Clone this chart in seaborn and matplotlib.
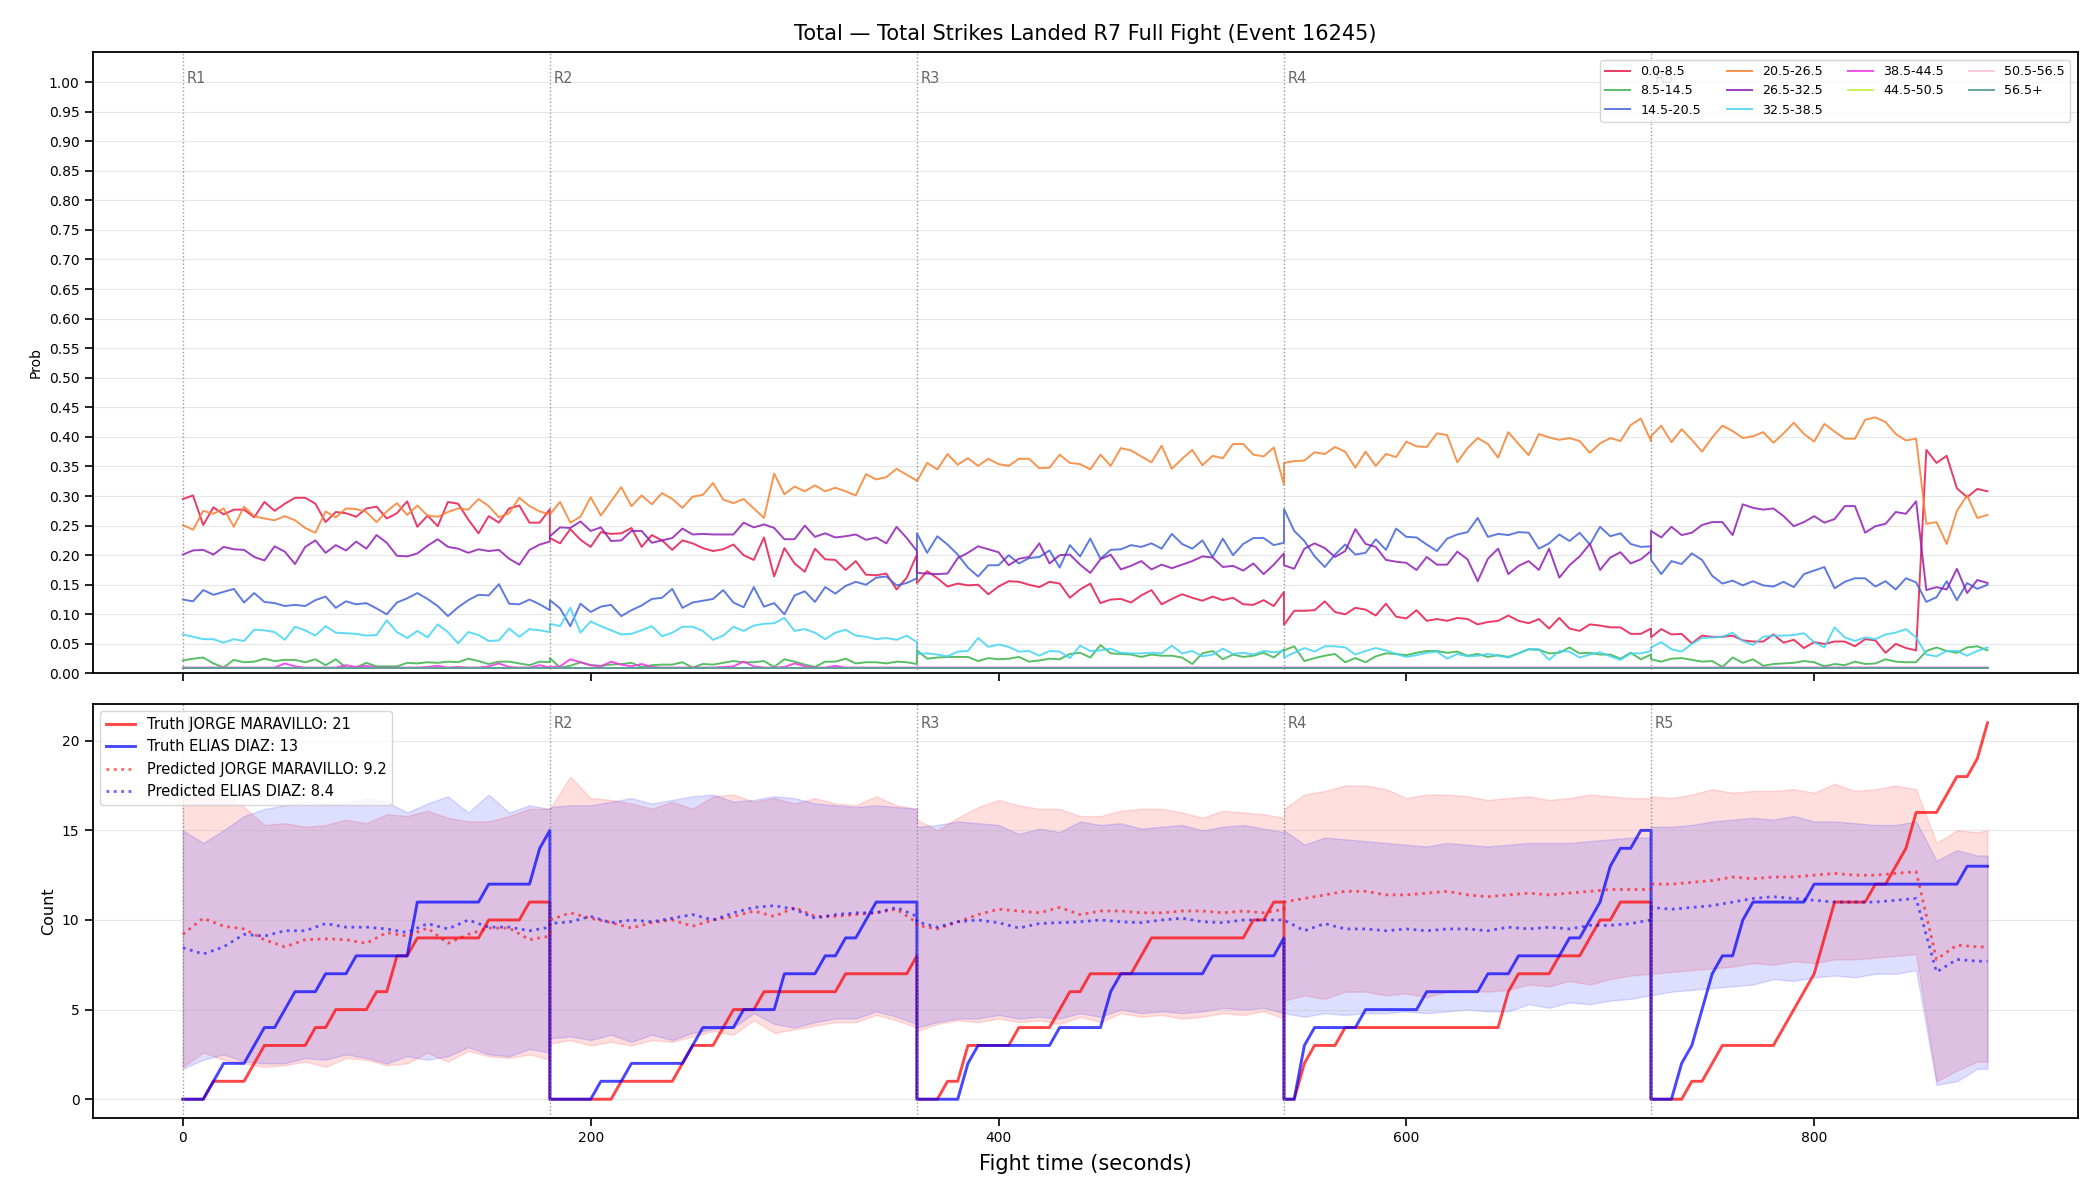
import numpy as np
import pandas as pd
import matplotlib
matplotlib.use("Agg")
import matplotlib.pyplot as plt
import seaborn as sns

# ---------------------------------------------------------------- data
TITLE = "Total — Total Strikes Landed R7 Full Fight (Event 16245)"
ROUND_STARTS = [0, 180, 360, 540, 720]
ROUND_LABELS = ["R1", "R2", "R3", "R4", "R5"]
FIGHT_END = 885

BIN_LABELS = ["0.0-8.5", "8.5-14.5", "14.5-20.5", "20.5-26.5", "26.5-32.5",
              "32.5-38.5", "38.5-44.5", "44.5-50.5", "50.5-56.5", "56.5+"]
BIN_COLORS = ["#e6194b", "#3cb44b", "#4363d8", "#f58231", "#911eb4",
              "#42d4f4", "#f032e6", "#bfef45", "#fabed4", "#469990"]

# probabilities, sampled every 5 s inside each round (round edges repeated)
P_00_08 = (
    [0.295, 0.301, 0.251, 0.281, 0.269, 0.277, 0.277, 0.264, 0.290, 0.275, 0.287, 0.297, 0.297,
     0.287, 0.256, 0.273, 0.271, 0.265, 0.279, 0.282, 0.262, 0.271, 0.291, 0.248, 0.267, 0.249,
     0.290, 0.287, 0.260, 0.237, 0.266, 0.255, 0.279, 0.284, 0.255, 0.255, 0.278] +
    [0.229, 0.220, 0.244, 0.226, 0.214, 0.239, 0.236, 0.237, 0.246, 0.214, 0.234, 0.225, 0.209,
     0.225, 0.220, 0.212, 0.207, 0.210, 0.218, 0.200, 0.192, 0.230, 0.164, 0.212, 0.186, 0.172,
     0.211, 0.193, 0.192, 0.175, 0.190, 0.167, 0.166, 0.169, 0.142, 0.162, 0.201] +
    [0.153, 0.173, 0.161, 0.147, 0.152, 0.149, 0.150, 0.134, 0.147, 0.156, 0.155, 0.150, 0.146,
     0.155, 0.152, 0.128, 0.142, 0.152, 0.119, 0.125, 0.126, 0.120, 0.132, 0.141, 0.117, 0.126,
     0.134, 0.128, 0.123, 0.130, 0.124, 0.128, 0.117, 0.116, 0.124, 0.114, 0.138] +
    [0.082, 0.106, 0.106, 0.107, 0.122, 0.104, 0.100, 0.111, 0.108, 0.098, 0.118, 0.096, 0.093,
     0.107, 0.089, 0.092, 0.089, 0.094, 0.092, 0.083, 0.087, 0.089, 0.098, 0.089, 0.085, 0.092,
     0.076, 0.094, 0.076, 0.072, 0.083, 0.081, 0.078, 0.078, 0.067, 0.067, 0.076] +
    [0.061, 0.075, 0.066, 0.067, 0.051, 0.064, 0.062, 0.062, 0.064, 0.056, 0.054, 0.054, 0.066,
     0.052, 0.057, 0.043, 0.053, 0.050, 0.054, 0.054, 0.046, 0.058, 0.056, 0.035, 0.050, 0.043,
     0.039, 0.378, 0.356, 0.368, 0.313, 0.298, 0.312, 0.308]
)
P_08_14 = (
    [0.022, 0.025, 0.027, 0.017, 0.010, 0.023, 0.019, 0.020, 0.025, 0.021, 0.023, 0.023, 0.019,
     0.024, 0.014, 0.024, 0.010, 0.010, 0.018, 0.012, 0.012, 0.012, 0.018, 0.017, 0.019, 0.018,
     0.020, 0.019, 0.025, 0.021, 0.016, 0.020, 0.020, 0.017, 0.014, 0.020, 0.019] +
    [0.026, 0.010, 0.013, 0.019, 0.014, 0.013, 0.015, 0.016, 0.018, 0.011, 0.014, 0.015, 0.015,
     0.019, 0.010, 0.016, 0.015, 0.018, 0.021, 0.019, 0.019, 0.021, 0.011, 0.024, 0.020, 0.015,
     0.011, 0.020, 0.020, 0.025, 0.017, 0.019, 0.019, 0.017, 0.020, 0.019, 0.016] +
    [0.039, 0.025, 0.027, 0.028, 0.028, 0.028, 0.021, 0.026, 0.024, 0.025, 0.028, 0.020, 0.022,
     0.025, 0.024, 0.033, 0.035, 0.027, 0.048, 0.034, 0.033, 0.032, 0.028, 0.032, 0.030, 0.030,
     0.027, 0.016, 0.034, 0.038, 0.024, 0.032, 0.028, 0.030, 0.035, 0.027, 0.041] +
    [0.039, 0.046, 0.021, 0.026, 0.030, 0.033, 0.019, 0.026, 0.019, 0.029, 0.034, 0.033, 0.031,
     0.035, 0.038, 0.038, 0.035, 0.037, 0.030, 0.033, 0.028, 0.031, 0.028, 0.034, 0.041, 0.040,
     0.034, 0.035, 0.044, 0.034, 0.035, 0.032, 0.032, 0.025, 0.035, 0.024, 0.032] +
    [0.024, 0.020, 0.025, 0.026, 0.023, 0.020, 0.021, 0.011, 0.027, 0.018, 0.024, 0.013, 0.016,
     0.017, 0.018, 0.021, 0.019, 0.012, 0.016, 0.014, 0.020, 0.016, 0.017, 0.024, 0.020, 0.019,
     0.019, 0.038, 0.044, 0.038, 0.035, 0.044, 0.046, 0.039]
)
P_14_20 = (
    [0.125, 0.122, 0.141, 0.133, 0.138, 0.143, 0.120, 0.136, 0.121, 0.119, 0.114, 0.116, 0.114,
     0.124, 0.130, 0.111, 0.122, 0.117, 0.119, 0.110, 0.100, 0.120, 0.127, 0.136, 0.126, 0.114,
     0.097, 0.112, 0.124, 0.133, 0.132, 0.151, 0.118, 0.117, 0.125, 0.117, 0.107] +
    [0.124, 0.110, 0.080, 0.118, 0.104, 0.113, 0.116, 0.097, 0.107, 0.115, 0.126, 0.128, 0.143,
     0.111, 0.120, 0.123, 0.126, 0.141, 0.120, 0.112, 0.146, 0.113, 0.119, 0.100, 0.132, 0.139,
     0.121, 0.146, 0.135, 0.148, 0.155, 0.150, 0.162, 0.164, 0.149, 0.153, 0.161] +
    [0.237, 0.204, 0.232, 0.218, 0.201, 0.179, 0.164, 0.183, 0.183, 0.200, 0.186, 0.195, 0.197,
     0.208, 0.179, 0.217, 0.198, 0.228, 0.194, 0.209, 0.210, 0.217, 0.214, 0.220, 0.211, 0.236,
     0.219, 0.211, 0.225, 0.197, 0.228, 0.200, 0.219, 0.229, 0.229, 0.217, 0.221] +
    [0.278, 0.241, 0.224, 0.198, 0.180, 0.201, 0.218, 0.201, 0.204, 0.227, 0.209, 0.245, 0.231,
     0.230, 0.218, 0.207, 0.228, 0.235, 0.239, 0.263, 0.231, 0.236, 0.234, 0.239, 0.238, 0.211,
     0.220, 0.235, 0.224, 0.238, 0.218, 0.248, 0.232, 0.237, 0.219, 0.214, 0.215] +
    [0.192, 0.168, 0.190, 0.185, 0.203, 0.192, 0.165, 0.152, 0.157, 0.149, 0.156, 0.149, 0.147,
     0.155, 0.146, 0.168, 0.174, 0.180, 0.144, 0.155, 0.161, 0.161, 0.147, 0.156, 0.142, 0.161,
     0.154, 0.121, 0.129, 0.156, 0.124, 0.153, 0.143, 0.150]
)
P_20_26 = (
    [0.251, 0.243, 0.275, 0.270, 0.279, 0.248, 0.282, 0.266, 0.262, 0.259, 0.266, 0.259, 0.246,
     0.238, 0.274, 0.264, 0.279, 0.278, 0.273, 0.256, 0.274, 0.288, 0.268, 0.284, 0.267, 0.265,
     0.273, 0.279, 0.277, 0.295, 0.283, 0.264, 0.271, 0.297, 0.283, 0.274, 0.269] +
    [0.269, 0.290, 0.255, 0.265, 0.298, 0.267, 0.291, 0.315, 0.283, 0.301, 0.286, 0.305, 0.295,
     0.280, 0.299, 0.302, 0.322, 0.294, 0.288, 0.295, 0.279, 0.263, 0.338, 0.303, 0.316, 0.308,
     0.318, 0.308, 0.314, 0.308, 0.301, 0.337, 0.328, 0.332, 0.346, 0.336, 0.326] +
    [0.325, 0.356, 0.345, 0.371, 0.353, 0.364, 0.351, 0.363, 0.354, 0.351, 0.363, 0.363, 0.347,
     0.348, 0.370, 0.356, 0.354, 0.345, 0.370, 0.351, 0.381, 0.377, 0.367, 0.357, 0.385, 0.346,
     0.363, 0.378, 0.352, 0.368, 0.364, 0.388, 0.388, 0.370, 0.367, 0.382, 0.319] +
    [0.356, 0.359, 0.360, 0.374, 0.371, 0.383, 0.375, 0.348, 0.375, 0.351, 0.371, 0.366, 0.392,
     0.384, 0.383, 0.406, 0.403, 0.357, 0.381, 0.398, 0.388, 0.365, 0.408, 0.388, 0.369, 0.405,
     0.399, 0.395, 0.398, 0.393, 0.373, 0.389, 0.398, 0.393, 0.420, 0.431, 0.393] +
    [0.401, 0.419, 0.391, 0.413, 0.395, 0.375, 0.399, 0.419, 0.410, 0.398, 0.401, 0.408, 0.390,
     0.406, 0.424, 0.405, 0.392, 0.422, 0.409, 0.397, 0.397, 0.429, 0.433, 0.425, 0.405, 0.394,
     0.397, 0.253, 0.256, 0.219, 0.275, 0.301, 0.263, 0.268]
)
P_26_32 = (
    [0.201, 0.208, 0.209, 0.201, 0.214, 0.210, 0.209, 0.197, 0.191, 0.215, 0.206, 0.185, 0.214,
     0.225, 0.204, 0.217, 0.208, 0.223, 0.211, 0.234, 0.221, 0.199, 0.198, 0.203, 0.216, 0.227,
     0.214, 0.211, 0.204, 0.210, 0.207, 0.209, 0.194, 0.184, 0.209, 0.218, 0.223] +
    [0.232, 0.247, 0.246, 0.257, 0.241, 0.247, 0.224, 0.225, 0.241, 0.241, 0.221, 0.225, 0.229,
     0.245, 0.235, 0.236, 0.235, 0.235, 0.235, 0.255, 0.247, 0.252, 0.246, 0.227, 0.227, 0.250,
     0.231, 0.237, 0.230, 0.232, 0.235, 0.226, 0.230, 0.220, 0.248, 0.229, 0.207] +
    [0.170, 0.169, 0.168, 0.169, 0.195, 0.204, 0.215, 0.210, 0.205, 0.183, 0.194, 0.197, 0.220,
     0.186, 0.200, 0.201, 0.184, 0.170, 0.193, 0.201, 0.176, 0.182, 0.190, 0.176, 0.184, 0.178,
     0.184, 0.190, 0.198, 0.196, 0.180, 0.182, 0.174, 0.186, 0.168, 0.184, 0.203] +
    [0.183, 0.177, 0.211, 0.220, 0.212, 0.197, 0.207, 0.244, 0.219, 0.214, 0.192, 0.189, 0.187,
     0.175, 0.197, 0.184, 0.184, 0.206, 0.193, 0.156, 0.194, 0.211, 0.168, 0.182, 0.190, 0.175,
     0.211, 0.162, 0.183, 0.198, 0.219, 0.175, 0.196, 0.205, 0.186, 0.193, 0.207] +
    [0.241, 0.230, 0.248, 0.234, 0.238, 0.251, 0.256, 0.256, 0.234, 0.286, 0.280, 0.277, 0.279,
     0.266, 0.249, 0.256, 0.266, 0.255, 0.261, 0.283, 0.283, 0.238, 0.249, 0.253, 0.273, 0.270,
     0.291, 0.141, 0.146, 0.142, 0.177, 0.136, 0.158, 0.153]
)
P_32_38 = (
    [0.066, 0.062, 0.058, 0.058, 0.052, 0.058, 0.055, 0.074, 0.073, 0.070, 0.057, 0.079, 0.073,
     0.064, 0.080, 0.069, 0.068, 0.067, 0.064, 0.065, 0.090, 0.070, 0.060, 0.072, 0.061, 0.083,
     0.070, 0.051, 0.070, 0.065, 0.055, 0.056, 0.076, 0.062, 0.075, 0.073, 0.070] +
    [0.084, 0.080, 0.111, 0.069, 0.088, 0.080, 0.073, 0.066, 0.067, 0.073, 0.080, 0.063, 0.069,
     0.079, 0.079, 0.072, 0.057, 0.064, 0.079, 0.072, 0.081, 0.084, 0.085, 0.094, 0.072, 0.075,
     0.069, 0.058, 0.069, 0.074, 0.064, 0.062, 0.058, 0.060, 0.057, 0.064, 0.053] +
    [0.033, 0.034, 0.032, 0.029, 0.037, 0.038, 0.060, 0.045, 0.049, 0.045, 0.037, 0.038, 0.030,
     0.038, 0.037, 0.026, 0.047, 0.038, 0.039, 0.042, 0.035, 0.034, 0.034, 0.035, 0.034, 0.047,
     0.034, 0.038, 0.029, 0.032, 0.042, 0.033, 0.035, 0.032, 0.038, 0.036, 0.038] +
    [0.027, 0.035, 0.043, 0.037, 0.046, 0.046, 0.044, 0.032, 0.038, 0.043, 0.039, 0.033, 0.028,
     0.031, 0.035, 0.037, 0.025, 0.033, 0.029, 0.030, 0.033, 0.030, 0.027, 0.034, 0.041, 0.041,
     0.023, 0.038, 0.037, 0.027, 0.032, 0.036, 0.029, 0.023, 0.034, 0.034, 0.038] +
    [0.044, 0.053, 0.041, 0.037, 0.050, 0.060, 0.061, 0.062, 0.069, 0.055, 0.048, 0.062, 0.064,
     0.064, 0.065, 0.068, 0.053, 0.044, 0.078, 0.061, 0.055, 0.061, 0.058, 0.066, 0.069, 0.075,
     0.061, 0.032, 0.029, 0.038, 0.038, 0.030, 0.038, 0.044]
)
P_38_44 = (
    [0.010, 0.010, 0.010, 0.010, 0.010, 0.010, 0.010, 0.010, 0.010, 0.010, 0.017, 0.012, 0.010,
     0.010, 0.010, 0.010, 0.014, 0.011, 0.013, 0.010, 0.010, 0.010, 0.010, 0.010, 0.011, 0.013,
     0.010, 0.011, 0.010, 0.010, 0.012, 0.017, 0.011, 0.010, 0.010, 0.014, 0.010] +
    [0.011, 0.012, 0.024, 0.019, 0.014, 0.012, 0.020, 0.015, 0.012, 0.016, 0.011, 0.010, 0.010,
     0.010, 0.010, 0.010, 0.010, 0.011, 0.012, 0.020, 0.012, 0.010, 0.010, 0.011, 0.017, 0.012,
     0.010, 0.010, 0.013, 0.010, 0.010, 0.010, 0.010, 0.010, 0.010, 0.010, 0.010] +
    [0.010, 0.010, 0.010, 0.010, 0.010, 0.010, 0.010, 0.010, 0.010, 0.010, 0.010, 0.010, 0.010,
     0.010, 0.010, 0.010, 0.010, 0.010, 0.010, 0.010, 0.010, 0.010, 0.010, 0.010, 0.010, 0.010,
     0.010, 0.010, 0.010, 0.010, 0.010, 0.010, 0.010, 0.010, 0.010, 0.010, 0.010] +
    [0.010, 0.010, 0.010, 0.010, 0.010, 0.010, 0.010, 0.010, 0.010, 0.010, 0.010, 0.010, 0.010,
     0.010, 0.010, 0.010, 0.010, 0.010, 0.010, 0.010, 0.010, 0.010, 0.010, 0.010, 0.010, 0.010,
     0.010, 0.010, 0.010, 0.010, 0.010, 0.010, 0.010, 0.010, 0.010, 0.010, 0.010] +
    [0.010, 0.010, 0.010, 0.010, 0.010, 0.010, 0.010, 0.010, 0.010, 0.010, 0.010, 0.010, 0.010,
     0.010, 0.010, 0.010, 0.010, 0.010, 0.010, 0.010, 0.010, 0.010, 0.010, 0.010, 0.010, 0.010,
     0.010, 0.010, 0.010, 0.010, 0.010, 0.010, 0.010, 0.010]
)
# the three highest bins sit flat at about 0.01 for the whole fight
P_FLAT_HIGH = (
    [0.010, 0.010, 0.010, 0.010, 0.010, 0.010, 0.010, 0.010, 0.010, 0.010, 0.010, 0.010, 0.010,
     0.010, 0.010, 0.010, 0.010, 0.010, 0.010, 0.010, 0.010, 0.010, 0.010, 0.010, 0.010, 0.010,
     0.010, 0.010, 0.010, 0.010, 0.010, 0.010, 0.010, 0.010, 0.010, 0.010, 0.010] +
    [0.010, 0.010, 0.010, 0.010, 0.010, 0.010, 0.010, 0.010, 0.010, 0.010, 0.010, 0.010, 0.010,
     0.010, 0.010, 0.010, 0.010, 0.010, 0.010, 0.010, 0.010, 0.010, 0.010, 0.010, 0.010, 0.010,
     0.010, 0.010, 0.010, 0.010, 0.010, 0.010, 0.010, 0.010, 0.010, 0.010, 0.010] +
    [0.010, 0.010, 0.010, 0.010, 0.010, 0.010, 0.010, 0.010, 0.010, 0.010, 0.010, 0.010, 0.010,
     0.010, 0.010, 0.010, 0.010, 0.010, 0.010, 0.010, 0.010, 0.010, 0.010, 0.010, 0.010, 0.010,
     0.010, 0.010, 0.010, 0.010, 0.010, 0.010, 0.010, 0.010, 0.010, 0.010, 0.010] +
    [0.010, 0.010, 0.010, 0.010, 0.010, 0.010, 0.010, 0.010, 0.010, 0.010, 0.010, 0.010, 0.010,
     0.010, 0.010, 0.010, 0.010, 0.010, 0.010, 0.010, 0.010, 0.010, 0.010, 0.010, 0.010, 0.010,
     0.010, 0.010, 0.010, 0.010, 0.010, 0.010, 0.010, 0.010, 0.010, 0.010, 0.010] +
    [0.010, 0.010, 0.010, 0.010, 0.010, 0.010, 0.010, 0.010, 0.010, 0.010, 0.010, 0.010, 0.010,
     0.010, 0.010, 0.010, 0.010, 0.010, 0.010, 0.010, 0.010, 0.010, 0.010, 0.010, 0.010, 0.010,
     0.010, 0.010, 0.010, 0.010, 0.010, 0.010, 0.010, 0.010]
)
P_44_50 = P_FLAT_HIGH
P_50_56 = P_FLAT_HIGH
P_56_UP = P_FLAT_HIGH

# cumulative landed strikes within each round, sampled every 5 s
TRUTH_NAMES = ["JORGE MARAVILLO", "ELIAS DIAZ"]
TRUTH_JORGE = (
    [0, 0, 0, 1, 1, 1, 1, 2, 3, 3, 3, 3, 3, 4, 4, 5, 5, 5, 5, 6, 6, 8, 8, 9, 9, 9, 9, 9, 9, 9,
     10, 10, 10, 10, 11, 11, 11] +
    [0, 0, 0, 0, 0, 0, 0, 1, 1, 1, 1, 1, 1, 2, 3, 3, 3, 4, 5, 5, 5, 6, 6, 6, 6, 6, 6, 6, 6,
     7, 7, 7, 7, 7, 7, 7, 8] +
    [0, 0, 0, 1, 1, 3, 3, 3, 3, 3, 4, 4, 4, 4, 5, 6, 6, 7, 7, 7, 7, 7, 8, 9, 9, 9, 9, 9, 9, 9,
     9, 9, 9, 10, 10, 11, 11] +
    [0, 0, 2, 3, 3, 3, 4, 4, 4, 4, 4, 4, 4, 4, 4, 4, 4, 4, 4, 4, 4, 4, 6, 7, 7, 7, 7, 8, 8, 8,
     9, 10, 10, 11, 11, 11, 11] +
    [0, 0, 0, 0, 1, 1, 2, 3, 3, 3, 3, 3, 3, 4, 5, 6, 7, 9, 11, 11, 11, 11, 12, 12, 13, 14,
     16, 16, 16, 17, 18, 18, 19, 21]
)
TRUTH_ELIAS = (
    [0, 0, 0, 1, 2, 2, 2, 3, 4, 4, 5, 6, 6, 6, 7, 7, 7, 8, 8, 8, 8, 8, 8, 11, 11, 11, 11, 11,
     11, 11, 12, 12, 12, 12, 12, 14, 15] +
    [0, 0, 0, 0, 0, 1, 1, 1, 2, 2, 2, 2, 2, 2, 3, 4, 4, 4, 4, 5, 5, 5, 5, 7, 7, 7, 7, 8, 8,
     9, 9, 10, 11, 11, 11, 11, 11] +
    [0, 0, 0, 0, 0, 2, 3, 3, 3, 3, 3, 3, 3, 3, 4, 4, 4, 4, 4, 6, 7, 7, 7, 7, 7, 7, 7, 7, 7,
     8, 8, 8, 8, 8, 8, 8, 9] +
    [0, 0, 3, 4, 4, 4, 4, 4, 5, 5, 5, 5, 5, 5, 6, 6, 6, 6, 6, 6, 7, 7, 7, 8, 8, 8, 8, 8, 9,
     9, 10, 11, 13, 14, 14, 15, 15] +
    [0, 0, 0, 2, 3, 5, 7, 8, 8, 10, 11, 11, 11, 11, 11, 11, 12, 12, 12, 12, 12, 12, 12, 12,
     12, 12, 12, 12, 12, 12, 12, 13, 13, 13]
)

# predicted count and its band, sampled every 10 s inside each round
PRED_JORGE = (
    [9.2, 10.1, 9.65, 9.5, 8.9, 8.5, 8.9, 8.95, 8.9, 8.7, 9.3, 9.1, 9.55, 8.7, 9.2, 9.55, 9.55,
     8.9, 9.1] +
    [10.0, 10.4, 10.1, 9.85, 9.55, 9.85, 10.0, 9.65, 10.0, 10.2, 10.5, 10.2, 10.7, 10.2, 10.2,
     10.3, 10.4, 10.6, 9.85] +
    [9.7, 9.5, 9.9, 10.3, 10.6, 10.5, 10.4, 10.7, 10.3, 10.5, 10.5, 10.4, 10.4, 10.5, 10.5,
     10.4, 10.5, 10.4, 10.6] +
    [11.0, 11.2, 11.4, 11.6, 11.6, 11.4, 11.4, 11.5, 11.6, 11.4, 11.3, 11.4, 11.5, 11.4, 11.5,
     11.6, 11.7, 11.7, 11.7] +
    [12.0, 12.0, 12.1, 12.2, 12.4, 12.3, 12.4, 12.4, 12.5, 12.6, 12.5, 12.5, 12.6, 12.7, 7.8,
     8.6, 8.5, 8.5]
)
PRED_ELIAS = (
    [8.45, 8.1, 8.5, 9.2, 9.1, 9.4, 9.4, 9.8, 9.6, 9.6, 9.5, 9.3, 9.8, 9.5, 10.0, 9.6, 9.6,
     9.4, 9.6] +
    [9.8, 9.9, 10.2, 9.85, 10.0, 9.9, 10.1, 10.3, 10.0, 10.4, 10.7, 10.8, 10.6, 10.1, 10.3,
     10.4, 10.4, 10.7, 10.2] +
    [9.9, 9.6, 9.9, 10.0, 9.85, 9.55, 9.8, 9.85, 9.9, 10.0, 9.9, 9.85, 10.0, 10.1, 9.9, 9.85,
     10.0, 10.0, 10.0] +
    [10.0, 9.4, 9.8, 9.5, 9.5, 9.4, 9.5, 9.4, 9.5, 9.5, 9.4, 9.6, 9.5, 9.6, 9.5, 9.7, 9.7,
     9.8, 10.0] +
    [10.7, 10.6, 10.7, 10.8, 11.0, 11.2, 11.3, 11.2, 11.1, 11.0, 11.0, 11.0, 11.1, 11.2, 7.1,
     7.8, 7.7, 7.7]
)
HI_JORGE = (
    [16.8, 17.0, 17.0, 16.3, 15.3, 15.4, 15.2, 15.3, 15.6, 15.4, 15.9, 15.8, 16.1, 15.7, 15.5,
     15.5, 15.8, 16.2, 16.2] +
    [16.2, 18.0, 16.8, 16.7, 16.5, 16.2, 16.6, 16.2, 16.9, 17.0, 16.6, 16.8, 16.5, 16.8, 16.5,
     16.4, 16.9, 16.4, 16.2] +
    [15.6, 15.0, 15.7, 16.3, 16.7, 16.4, 16.2, 16.2, 15.8, 15.8, 16.1, 16.2, 16.2, 16.0, 15.7,
     16.1, 16.0, 15.9, 15.7] +
    [16.2, 17.0, 17.2, 17.5, 17.5, 17.3, 16.8, 17.0, 17.0, 16.9, 16.7, 16.8, 16.9, 16.7, 16.8,
     17.0, 16.9, 16.8, 16.8] +
    [16.9, 16.8, 17.0, 17.3, 17.1, 17.2, 17.2, 17.3, 17.1, 17.6, 17.2, 17.3, 17.5, 17.3, 14.3,
     15.0, 14.9, 15.0]
)
LO_JORGE = (
    [1.8, 2.6, 2.2, 2.0, 1.8, 1.9, 2.1, 1.8, 2.3, 2.2, 1.9, 2.0, 2.6, 2.1, 2.7, 2.4, 2.3, 2.5,
     2.2] +
    [3.1, 3.3, 3.0, 3.2, 3.0, 3.3, 3.2, 3.5, 3.8, 3.6, 4.4, 3.7, 3.9, 4.1, 4.3, 4.3, 4.7, 4.4,
     4.0] +
    [3.8, 4.2, 4.4, 4.3, 4.5, 4.3, 4.4, 4.2, 4.6, 4.3, 4.8, 4.6, 4.7, 4.5, 4.6, 4.8, 4.7, 4.9,
     4.5] +
    [5.5, 5.8, 5.6, 6.0, 6.0, 5.8, 5.9, 5.7, 6.0, 6.1, 6.0, 6.1, 6.4, 6.3, 6.6, 6.4, 6.7, 6.9,
     7.0] +
    [7.0, 7.1, 7.2, 7.3, 7.4, 7.6, 7.5, 7.7, 7.6, 7.8, 7.8, 7.9, 8.0, 8.1, 1.0, 1.6, 2.1, 2.1]
)
HI_ELIAS = (
    [15.0, 14.3, 15.0, 15.8, 16.2, 16.4, 16.6, 16.5, 16.5, 16.8, 16.6, 16.0, 16.5, 16.9, 16.0,
     17.0, 16.0, 16.4, 16.2] +
    [16.3, 16.4, 16.4, 16.6, 16.8, 16.5, 16.7, 16.9, 17.0, 16.6, 16.7, 16.9, 16.8, 16.5, 16.4,
     16.3, 16.4, 16.3, 16.2] +
    [15.2, 15.3, 15.5, 15.4, 15.3, 14.8, 15.1, 14.9, 15.5, 15.3, 15.4, 15.1, 15.2, 15.3, 15.0,
     15.2, 15.3, 15.1, 14.9] +
    [15.0, 14.2, 14.6, 14.5, 14.4, 14.3, 14.2, 14.1, 14.3, 14.2, 14.1, 14.2, 14.3, 14.3, 14.3,
     14.4, 14.5, 14.6, 14.6] +
    [15.2, 15.2, 15.3, 15.5, 15.6, 15.7, 15.6, 15.8, 15.5, 15.5, 15.4, 15.3, 15.3, 15.5, 13.3,
     13.9, 13.6, 13.6]
)
LO_ELIAS = (
    [1.7, 2.2, 2.5, 2.1, 2.0, 2.0, 2.3, 2.2, 2.5, 2.3, 2.0, 2.4, 2.2, 2.4, 2.9, 2.5, 2.4, 2.8,
     2.6] +
    [3.4, 3.5, 3.3, 3.6, 3.2, 3.6, 3.3, 3.7, 3.9, 4.0, 4.8, 4.2, 4.0, 4.3, 4.5, 4.5, 4.9, 4.6,
     4.2] +
    [4.0, 4.3, 4.5, 4.5, 4.7, 4.5, 4.6, 4.5, 4.8, 4.6, 5.0, 4.8, 4.9, 4.8, 4.9, 5.1, 5.0, 5.1,
     4.8] +
    [4.8, 4.6, 4.8, 4.7, 4.8, 4.8, 4.9, 4.8, 4.9, 5.0, 4.9, 4.9, 5.3, 5.1, 5.4, 5.3, 5.5, 5.6,
     5.8] +
    [5.8, 6.0, 6.1, 6.2, 6.3, 6.4, 6.7, 6.6, 6.8, 6.9, 6.8, 7.0, 7.0, 7.2, 0.8, 1.0, 1.7, 1.7]
)


# ---------------------------------------------------------------- helpers
def round_grid(step):
    """Sample times: every `step` s within each round, the round edges repeated."""
    out = []
    for i, start in enumerate(ROUND_STARTS):
        end = ROUND_STARTS[i + 1] if i + 1 < len(ROUND_STARTS) else FIGHT_END
        g = list(range(start, end + 1, step))
        if g[-1] != end:
            g.append(end)
        out += g
    return np.array(out, dtype=float)


T5 = round_grid(5)
T10 = round_grid(10)

PROB_SERIES = [P_00_08, P_08_14, P_14_20, P_20_26, P_26_32,
               P_32_38, P_38_44, P_44_50, P_50_56, P_56_UP]
for s in PROB_SERIES + [TRUTH_JORGE, TRUTH_ELIAS]:
    assert len(s) == len(T5), (len(s), len(T5))
for s in [PRED_JORGE, PRED_ELIAS, HI_JORGE, LO_JORGE, HI_ELIAS, LO_ELIAS]:
    assert len(s) == len(T10), (len(s), len(T10))

prob_df = pd.concat(
    [pd.DataFrame({"t": T5, "prob": vals, "bin": lab})
     for lab, vals in zip(BIN_LABELS, PROB_SERIES)],
    ignore_index=True)

# ---------------------------------------------------------------- figure
plt.rcParams["font.family"] = ["DejaVu Sans"]
plt.rcParams["axes.linewidth"] = 1.3

fig, (ax1, ax2) = plt.subplots(
    2, 1, figsize=(21, 12), dpi=100, sharex=True,
    gridspec_kw={"height_ratios": [3, 2]})
fig.subplots_adjust(left=0.0441, right=0.9894, top=0.9563, bottom=0.0683, hspace=0.059)

# --- top: bin probabilities
for lab, col in zip(BIN_LABELS, BIN_COLORS):
    sub = prob_df[prob_df["bin"] == lab]
    sns.lineplot(data=sub, x="t", y="prob", ax=ax1, color=col, label=lab,
                 estimator=None, sort=False, linewidth=1.4, alpha=0.85)

ax1.set_ylim(0, 1.05)
ax1.set_yticks(np.arange(0, 1.0001, 0.05))
ax1.set_yticklabels([f"{v:.2f}" for v in np.arange(0, 1.0001, 0.05)])
ax1.set_ylabel("Prob", fontsize=10)
ax1.set_xlabel("")
ax1.set_title(TITLE, fontsize=15, pad=9)
h, l = ax1.get_legend_handles_labels()
ax1.legend(h, l, loc="upper right", ncol=4, fontsize=9.1, borderaxespad=0.6)

# --- bottom: truth vs prediction
ax2.fill_between(T10, LO_JORGE, HI_JORGE, color="red", alpha=0.13)
ax2.fill_between(T10, LO_ELIAS, HI_ELIAS, color="blue", alpha=0.13)

sns.lineplot(x=T5, y=TRUTH_JORGE, ax=ax2, color="red", alpha=0.72, linewidth=2.1,
             estimator=None, sort=False,
             label=f"Truth {TRUTH_NAMES[0]}: {TRUTH_JORGE[-1]}")
sns.lineplot(x=T5, y=TRUTH_ELIAS, ax=ax2, color="blue", alpha=0.72, linewidth=2.1,
             estimator=None, sort=False,
             label=f"Truth {TRUTH_NAMES[1]}: {TRUTH_ELIAS[-1]}")
sns.lineplot(x=T10, y=PRED_JORGE, ax=ax2, color="red", alpha=0.6, linewidth=2.0,
             linestyle=":", estimator=None, sort=False,
             label=f"Predicted {TRUTH_NAMES[0]}: {PRED_JORGE[0]:.1f}")
sns.lineplot(x=T10, y=PRED_ELIAS, ax=ax2, color="blue", alpha=0.6, linewidth=2.0,
             linestyle=":", estimator=None, sort=False,
             label=f"Predicted {TRUTH_NAMES[1]}: {PRED_ELIAS[0]:.1f}")

ax2.set_ylabel("Count", fontsize=11.5)
ax2.set_xlabel("Fight time (seconds)", fontsize=15, labelpad=6)
h, l = ax2.get_legend_handles_labels()
ax2.legend(h, l, loc="upper left", fontsize=10.5)

# --- shared decorations
for ax in (ax1, ax2):
    ax.grid(axis="y", alpha=0.3)
    ax.grid(axis="x", visible=False)
    ax.tick_params(labelsize=10, length=6, width=1.2)
    for t0, rl in zip(ROUND_STARTS, ROUND_LABELS):
        ax.axvline(t0, color="gray", linestyle=":", linewidth=1.0, alpha=0.8)
        ax.text(t0 + 2, 0.97, rl, transform=ax.get_xaxis_transform(),
                ha="left", va="top", fontsize=10.5, color="#666666")

fig.savefig("out.png", dpi=100)
